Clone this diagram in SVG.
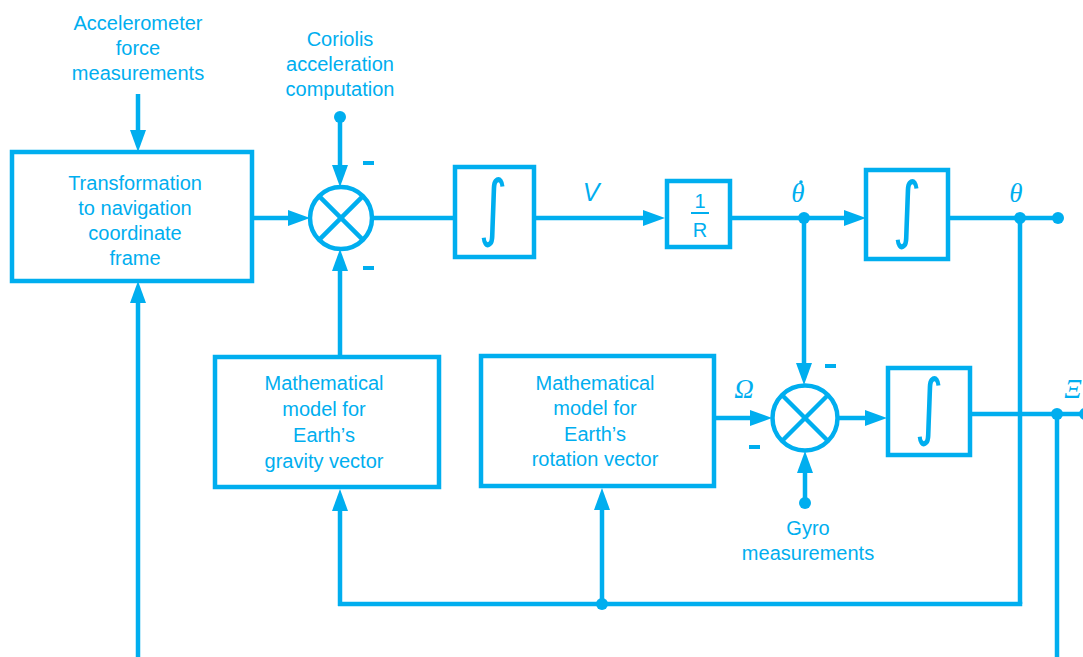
<svg xmlns="http://www.w3.org/2000/svg" width="1083" height="657" viewBox="0 0 1083 657">
  <defs>
    <style>
      .box { fill: none; stroke: #00aeef; stroke-width: 4.5; }
      .wire { fill: none; stroke: #00aeef; stroke-width: 4.5; stroke-linecap: butt; }
      .arr { marker-end: url(#head); }
      .dot { fill: #00aeef; }
      .lbl { font-family: "Liberation Sans", Arial, sans-serif; font-size: 20px; fill: #00aeef; text-anchor: middle; }
      .sym { font-family: "Liberation Serif", "DejaVu Serif", serif; font-style: italic; font-size: 27px; fill: #00aeef; text-anchor: middle; }
      .int { font-family: "DejaVu Sans", sans-serif; font-size: 56px; fill: #00aeef; text-anchor: middle; }
      .neg { fill: #00aeef; }
    </style>
    <marker id="head" markerUnits="userSpaceOnUse" markerWidth="22" markerHeight="16" refX="14" refY="8" orient="auto" viewBox="0 0 22 16">
      <path d="M0,0 L22,8 L0,16 Z" fill="#00aeef"/>
    </marker>
  </defs>

  <!-- input labels -->
  <g id="accel-input">
    <text class="lbl" x="138" y="30">Accelerometer</text>
    <text class="lbl" x="138" y="55">force</text>
    <text class="lbl" x="138" y="80">measurements</text>
  </g>
  <g id="coriolis-input">
    <text class="lbl" x="340" y="46">Coriolis</text>
    <text class="lbl" x="340" y="71">acceleration</text>
    <text class="lbl" x="340" y="96">computation</text>
  </g>

  <!-- frame transformation block -->
  <g id="transform">
    <rect class="box" x="12" y="152" width="240" height="129"/>
    <text class="lbl" x="135" y="190">Transformation</text>
    <text class="lbl" x="135" y="215">to navigation</text>
    <text class="lbl" x="135" y="240">coordinate</text>
    <text class="lbl" x="135" y="265">frame</text>
  </g>

  <!-- velocity summing junction -->
  <g id="sum1">
    <circle class="box" cx="341" cy="218" r="31"/>
    <line class="wire" x1="319.1" y1="196.1" x2="362.9" y2="239.9"/>
    <line class="wire" x1="362.9" y1="196.1" x2="319.1" y2="239.9"/>
    <rect class="neg" x="363" y="161" width="11" height="4"/>
    <rect class="neg" x="363" y="266" width="11" height="4"/>
  </g>

  <!-- first integrator -->
  <g id="int1">
    <rect class="box" x="455" y="167" width="79" height="90"/>
    <text class="int" transform="translate(493 232) scale(1 1.3)">∫</text>
  </g>

  <!-- 1/R gain -->
  <g id="gain">
    <rect class="box" x="667" y="181" width="63" height="66"/>
    <text class="lbl" x="700" y="208">1</text>
    <line class="wire" x1="691" y1="213" x2="709" y2="213" style="stroke-width:2"/>
    <text class="lbl" x="700" y="237">R</text>
  </g>

  <!-- second integrator -->
  <g id="int2">
    <rect class="box" x="866" y="170" width="82" height="89"/>
    <text class="int" transform="translate(907 234) scale(1 1.3)">∫</text>
  </g>

  <!-- gravity model -->
  <g id="gravity-model">
    <rect class="box" x="215" y="357" width="224" height="130"/>
    <text class="lbl" x="324" y="390">Mathematical</text>
    <text class="lbl" x="324" y="416">model for</text>
    <text class="lbl" x="324" y="442">Earth’s</text>
    <text class="lbl" x="324" y="468">gravity vector</text>
  </g>

  <!-- earth rotation model -->
  <g id="rotation-model">
    <rect class="box" x="481" y="356" width="233" height="130"/>
    <text class="lbl" x="595" y="390">Mathematical</text>
    <text class="lbl" x="595" y="415">model for</text>
    <text class="lbl" x="595" y="441">Earth’s</text>
    <text class="lbl" x="595" y="466">rotation vector</text>
  </g>

  <!-- angular rate summing junction -->
  <g id="sum2">
    <circle class="box" cx="805" cy="418" r="32.5"/>
    <line class="wire" x1="782" y1="395" x2="828" y2="441"/>
    <line class="wire" x1="828" y1="395" x2="782" y2="441"/>
    <rect class="neg" x="825" y="364" width="11" height="4"/>
    <rect class="neg" x="749" y="445" width="11" height="4"/>
  </g>

  <!-- third integrator -->
  <g id="int3">
    <rect class="box" x="888" y="368" width="82" height="87"/>
    <text class="int" transform="translate(929 431) scale(1 1.3)">∫</text>
  </g>

  <g id="gyro-input">
    <text class="lbl" x="808" y="535">Gyro</text>
    <text class="lbl" x="808" y="560">measurements</text>
  </g>

  <!-- signal labels -->
  <g id="signal-labels">
    <text class="sym" x="591" y="201" style="font-family:'Liberation Sans',Arial,sans-serif;font-size:25px">V</text>
    <text class="sym" x="798" y="202">θ</text>
    <circle class="dot" cx="801" cy="182" r="1.8"/>
    <text class="sym" x="1016" y="202">θ</text>
    <text class="sym" x="744" y="398">Ω</text>
    <text class="sym" x="1073" y="398">Ξ</text>
  </g>

  <!-- connectors -->
  <g id="connectors">
    <line class="wire arr" x1="138" y1="94" x2="138" y2="144"/>
    <line class="wire arr" x1="138" y1="657" x2="138" y2="289"/>
    <line class="wire arr" x1="340" y1="117" x2="340" y2="179"/>
    <line class="wire arr" x1="252" y1="218" x2="302" y2="218"/>
    <line class="wire arr" x1="340" y1="357" x2="340" y2="257"/>
    <line class="wire" x1="372" y1="218" x2="455" y2="218"/>
    <line class="wire arr" x1="534" y1="218" x2="657" y2="218"/>
    <line class="wire arr" x1="730" y1="218" x2="858" y2="218"/>
    <line class="wire arr" x1="804" y1="218" x2="804" y2="377"/>
    <line class="wire" x1="948" y1="218" x2="1058" y2="218"/>
    <line class="wire" x1="1020" y1="218" x2="1020" y2="604"/>
    <line class="wire" x1="1022.25" y1="604" x2="338" y2="604"/>
    <line class="wire arr" x1="340" y1="606" x2="340" y2="497"/>
    <line class="wire arr" x1="602" y1="604" x2="602" y2="496"/>
    <line class="wire arr" x1="714" y1="418" x2="764" y2="418"/>
    <line class="wire arr" x1="837" y1="418" x2="879" y2="418"/>
    <line class="wire arr" x1="805" y1="503" x2="805" y2="459"/>
    <line class="wire" x1="970" y1="414" x2="1083" y2="414"/>
    <line class="wire" x1="1057" y1="414" x2="1057" y2="657"/>
    <circle class="dot" cx="340" cy="117" r="6"/>
    <circle class="dot" cx="804" cy="218" r="6"/>
    <circle class="dot" cx="1020" cy="218" r="6"/>
    <circle class="dot" cx="1058" cy="218" r="6"/>
    <circle class="dot" cx="602" cy="604" r="6"/>
    <circle class="dot" cx="805" cy="503" r="6"/>
    <circle class="dot" cx="1057" cy="414" r="6"/>
    <circle class="dot" cx="1085" cy="414" r="6"/>
  </g>
</svg>
